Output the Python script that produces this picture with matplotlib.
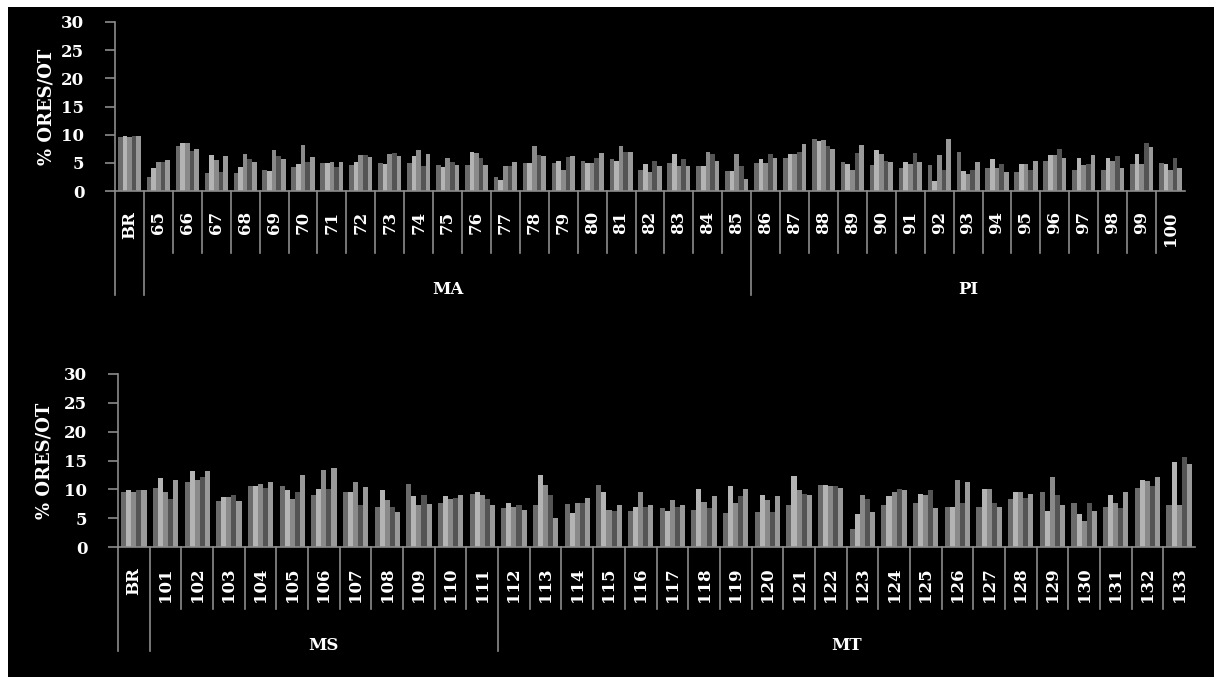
import numpy as np
import matplotlib
matplotlib.use('Agg')
import matplotlib.pyplot as plt
import matplotlib.transforms as mtransforms
from matplotlib.patches import Rectangle

# five series per category, grey shades as in the original
series_colors = ['#6b6b6b', '#b4b4b4', '#8a8a8a', '#545454', '#9a9a9a']

top_categories = ['BR'] + [str(i) for i in range(65, 101)]
top_rows = [
    [9.6, 9.8, 9.6, 9.8, 9.8],  # BR
    [2.5, 4.1, 5.2, 5.2, 5.5],  # 65
    [8.0, 8.5, 8.5, 7.1, 7.5],
    [3.2, 6.4, 5.5, 3.4, 6.2],
    [3.2, 4.3, 6.6, 5.7, 5.1],
    [3.8, 3.6, 7.3, 6.2, 5.7],
    [4.3, 4.8, 8.2, 5.1, 6.0],  # 70
    [5.0, 5.0, 5.2, 4.3, 5.1],
    [4.6, 5.2, 6.4, 6.4, 6.0],
    [5.0, 4.8, 6.5, 6.7, 6.2],
    [4.9, 6.3, 7.2, 4.4, 6.6],
    [4.6, 4.3, 5.9, 5.2, 4.6],  # 75
    [4.6, 7.0, 6.8, 5.9, 4.6],
    [2.5, 2.0, 4.5, 4.4, 5.2],
    [5.0, 5.0, 8.0, 6.4, 6.2],
    [5.0, 5.4, 3.7, 6.0, 6.2],
    [5.4, 5.0, 4.9, 5.9, 6.8],  # 80
    [5.7, 5.4, 8.0, 7.0, 7.0],
    [3.8, 4.8, 3.4, 5.4, 4.4],
    [5.0, 6.6, 4.4, 5.7, 4.4],
    [4.4, 4.4, 7.0, 6.6, 5.4],
    [3.6, 3.6, 6.6, 4.4, 2.1],  # 85
    [5.0, 5.7, 5.0, 6.6, 5.9],
    [5.9, 6.6, 6.6, 7.0, 8.4],
    [9.3, 8.9, 9.1, 8.0, 7.5],
    [5.2, 4.8, 3.7, 6.8, 8.2],
    [4.6, 7.3, 6.6, 5.4, 5.2],  # 90
    [4.1, 5.2, 4.8, 6.8, 5.2],
    [4.6, 1.8, 6.4, 3.7, 9.3],
    [7.0, 3.6, 3.0, 3.8, 5.2],
    [4.1, 5.7, 4.1, 4.8, 3.4],
    [3.4, 4.8, 4.8, 3.8, 5.4],  # 95
    [5.4, 6.4, 6.4, 7.5, 5.9],
    [3.8, 5.9, 4.6, 4.8, 6.4],
    [3.8, 5.9, 5.4, 6.2, 4.1],
    [4.8, 6.6, 4.8, 8.6, 7.8],
    [5.0, 4.8, 3.8, 5.9, 4.1],  # 100
]
# (label, first index, last index) of the state groups
top_groups = [('MA', 1, 21), ('PI', 22, 36)]

bottom_categories = ['BR'] + [str(i) for i in range(101, 134)]
bottom_rows = [
    [9.6, 9.9, 9.6, 9.9, 9.9],  # BR
    [10.3, 11.9, 9.6, 8.3, 11.7],  # 101
    [11.2, 13.2, 11.6, 12.1, 13.2],
    [8.0, 8.7, 8.7, 9.0, 7.9],
    [10.6, 10.5, 11.0, 10.2, 11.3],
    [10.6, 9.9, 8.3, 9.5, 12.5],  # 105
    [9.1, 10.1, 13.4, 10.1, 13.7],
    [9.6, 9.6, 11.3, 7.2, 10.4],
    [7.0, 9.9, 8.1, 7.0, 6.1],
    [11.0, 8.8, 7.2, 9.0, 7.4],
    [7.6, 8.8, 8.3, 8.5, 9.0],  # 110
    [9.2, 9.6, 9.0, 8.3, 7.2],
    [6.8, 7.6, 7.0, 7.2, 6.5],
    [7.2, 12.5, 10.8, 9.0, 5.0],
    [7.4, 5.9, 7.6, 7.6, 8.5],
    [10.8, 9.6, 6.5, 6.3, 7.2],  # 115
    [6.3, 7.0, 9.6, 7.0, 7.2],
    [6.8, 6.3, 8.1, 7.0, 7.2],
    [6.5, 10.1, 7.8, 6.8, 8.8],
    [5.9, 10.6, 7.6, 8.8, 10.1],
    [6.1, 9.0, 8.1, 6.1, 8.8],  # 120
    [7.2, 12.3, 9.9, 9.2, 9.0],
    [10.8, 10.8, 10.6, 10.6, 10.3],
    [3.2, 5.7, 9.0, 8.3, 6.1],
    [7.2, 8.8, 9.5, 10.1, 9.9],
    [7.6, 9.2, 9.0, 9.9, 6.8],  # 125
    [7.0, 7.0, 11.7, 7.6, 11.2],
    [7.0, 10.1, 10.1, 7.6, 7.0],
    [8.3, 9.5, 9.5, 8.5, 9.2],
    [9.6, 6.3, 12.1, 9.0, 7.2],
    [7.6, 5.7, 4.5, 7.6, 6.3],  # 130
    [7.0, 9.0, 7.6, 6.8, 9.5],
    [10.3, 11.7, 11.4, 10.6, 12.1],
    [7.2, 14.8, 7.2, 15.6, 14.4],
]
bottom_groups = [('MS', 1, 11), ('MT', 12, 33)]

AX_COLOR = '#8c8c8c'
FONT = 'DejaVu Serif'


def draw_panel(ax, categories, rows, groups, label_x):
    vals = np.array(rows).T
    n = len(categories)
    x = np.arange(n)
    w = 0.16
    for i, s in enumerate(vals):
        ax.bar(x + (i - 2) * w, s, width=w, color=series_colors[i], linewidth=0)

    ax.set_facecolor('black')
    ax.set_xlim(-0.5, n - 0.5)
    ax.set_ylim(0, 30)
    ax.set_yticks(range(0, 31, 5))
    for side in ['top', 'right']:
        ax.spines[side].set_visible(False)
    for side in ['left', 'bottom']:
        ax.spines[side].set_color(AX_COLOR)
        ax.spines[side].set_linewidth(1.2)
    ax.tick_params(axis='y', colors=AX_COLOR, length=7, width=1.2, pad=15)
    for t in ax.get_yticklabels():
        t.set_color('white')
        t.set_fontfamily(FONT)
        t.set_fontweight('bold')
        t.set_fontsize(12)
    ax.set_xticks([])
    ax.set_ylabel('% ORES/OT', color='white', fontfamily=FONT,
                  fontweight='bold', fontsize=13)
    ax.yaxis.set_label_coords(label_x, 0.5)

    # pixel based offsets below the axis
    trans = mtransforms.blended_transform_factory(ax.transData, ax.transAxes)
    h = ax.get_window_extent().height
    short = -62 / h
    long_ = -104 / h
    lab_y = -20 / h
    grp_y = -98 / h

    starts = {0} | {g[1] for g in groups}
    for k in range(n):
        bx = k - 0.5
        y_end = long_ if k in starts else short
        ax.plot([bx, bx], [0, y_end], color=AX_COLOR, lw=1.2,
                transform=trans, clip_on=False)
        ax.text(k, lab_y, categories[k], rotation=90, ha='center', va='top',
                color='white', fontfamily=FONT, fontweight='bold', fontsize=12,
                transform=trans)
    for name, a, b in groups:
        ax.text((a + b) / 2, grp_y, name, ha='center', va='center',
                color='white', fontfamily=FONT, fontweight='bold', fontsize=12,
                transform=trans)


W, H = 1214, 677
fig = plt.figure(figsize=(12.14, 6.77), dpi=100, facecolor='white')
# black picture area with a thin white margin on the left and top
fig.patches.append(Rectangle((8 / W, 0), 1, 1 - 7 / H, transform=fig.transFigure,
                             facecolor='black', edgecolor='none', zorder=-1))
ax1 = fig.add_axes([115 / W, 1 - 191 / H, 1070 / W, 169 / H])
ax2 = fig.add_axes([118 / W, 1 - 547 / H, 1077 / W, 173 / H])

draw_panel(ax1, top_categories, top_rows, top_groups, -0.056)
draw_panel(ax2, bottom_categories, bottom_rows, bottom_groups, -0.060)

fig.savefig('out.png', dpi=100, facecolor='white')
